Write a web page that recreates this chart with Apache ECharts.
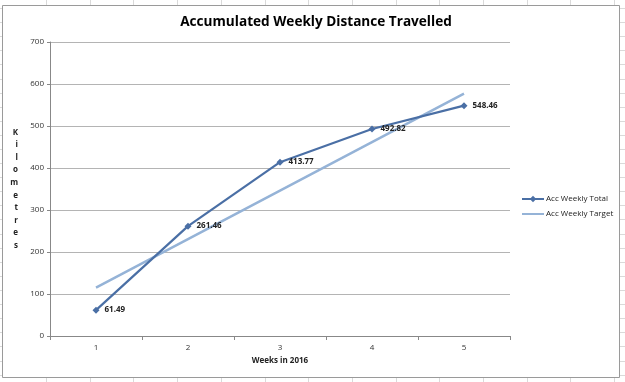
<!DOCTYPE html>
<html><head><meta charset="utf-8">
<script src="https://cdn.jsdelivr.net/npm/echarts@6/dist/echarts.min.js"></script>
<style>html,body{margin:0;padding:0;background:#fff}#c{width:625px;height:382px}</style>
</head><body><div id="c"></div>
<script>
const weeks = ['1','2','3','4','5'];
const accWeeklyTotal = [61.49, 261.46, 413.77, 492.82, 548.46];
const accWeeklyTarget = [115.38, 230.77, 346.15, 461.54, 576.92];
const yTicks = [0, 100, 200, 300, 400, 500, 600, 700];

const chart = echarts.init(document.getElementById('c'));
// spreadsheet cell lines outside chart frame
const cells = [];
for (let x = 46; x < 625; x += 43.7) {
  cells.push({type:'line', silent:true, z:-2, shape:{x1:Math.round(x)+0.5,y1:0,x2:Math.round(x)+0.5,y2:382}, style:{stroke:'#dadada',lineWidth:1}});
}
for (let y = 8; y < 382; y += 14.1) {
  cells.push({type:'line', silent:true, z:-2, shape:{x1:0,y1:Math.round(y)+0.5,x2:625,y2:Math.round(y)+0.5}, style:{stroke:'#dadada',lineWidth:1}});
}
const font = '"Open Sans", "Liberation Sans", sans-serif';
chart.setOption({
  animation: false,
  textStyle: {fontFamily: font},
  graphic: [
    ...cells,
    {type:'rect', silent:true, z:-1, shape:{x:2.5,y:5.5,width:617,height:372}, style:{fill:'#fff', stroke:'#9a9a9a', lineWidth:1}}
  ],
  title: {
    text: 'Accumulated Weekly Distance Travelled',
    left: 311, top: 10, textAlign: 'center',
    textStyle: {fontFamily: font, fontSize: 13.6, fontWeight: 'bold', color: '#000'}
  },
  legend: {
    orient: 'vertical', left: 516, top: 190, itemGap: 7,
    itemWidth: 22, itemHeight: 8,
    textStyle: {fontFamily: font, fontSize: 8, color: '#222', padding:[0,0,0,-3]},
    data: [{name: 'Acc Weekly Total'}, {name: 'Acc Weekly Target', itemStyle: {opacity: 0}}]
  },
  grid: {left: 50, right: 115, top: 42, bottom: 46},
  xAxis: {
    type: 'category', data: weeks, boundaryGap: true,
    name: 'Weeks in 2016', nameLocation: 'middle', nameGap: 21,
    nameTextStyle: {fontFamily: font, fontSize: 8, fontWeight: 'bold', color: '#222'},
    axisLine: {lineStyle: {color: '#888'}},
    axisTick: {show: true, length: 4, lineStyle: {color: '#888'}},
    axisLabel: {fontSize: 8, color: '#333', margin: 8}
  },
  yAxis: {
    type: 'value', min: 0, max: 700, interval: 100,
    name: 'Kilometres'.split('').join('\n'), nameLocation: 'middle', nameRotate: 0, nameGap: 32,
    nameTextStyle: {fontFamily: font, fontSize: 8, fontWeight: 'bold', color: '#222', lineHeight: 12.6},
    axisLine: {show: true, lineStyle: {color: '#888'}},
    axisTick: {show: true, length: 3, lineStyle: {color: '#888'}},
    axisLabel: {fontSize: 8, color: '#333', margin: 6, formatter: v => yTicks.includes(v) ? String(v) : ''},
    splitLine: {lineStyle: {color: '#b4b4b4', width: 1}}
  },
  series: [
    {
      name: 'Acc Weekly Total', type: 'line', data: accWeeklyTotal,
      symbol: 'diamond', symbolSize: 7,
      lineStyle: {color: '#4a6fa5', width: 2.2},
      itemStyle: {color: '#4a6fa5'},
      label: {show: true, position: 'right', distance: 5, fontFamily: font, fontSize: 8, fontWeight: 'bold', color: '#222', formatter: p => p.value.toFixed(2)},
      z: 3
    },
    {
      name: 'Acc Weekly Target', type: 'line', data: accWeeklyTarget,
      symbol: 'none', showSymbol: false,
      lineStyle: {color: '#95b3d7', width: 2.5},
      itemStyle: {color: '#95b3d7'},
      z: 2
    }
  ]
});
</script></body></html>
